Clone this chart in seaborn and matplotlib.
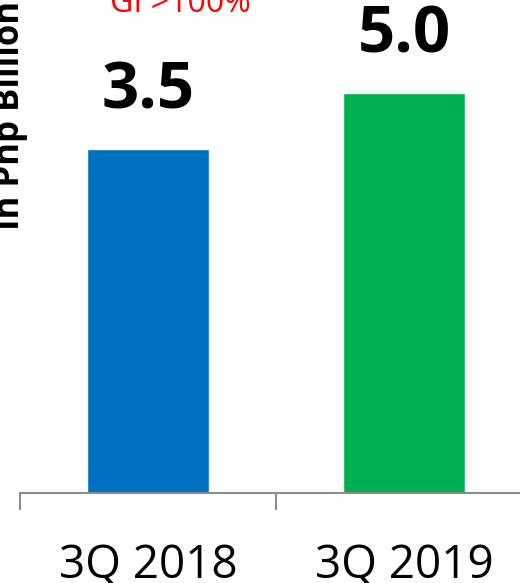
import pandas as pd
import seaborn as sns
import matplotlib.pyplot as plt
from matplotlib.ticker import FixedLocator

# dados
periods = ["3Q 2018", "3Q 2019"]
bar_heights = [4.3, 5.0]          # altura das barras como aparecem no grafico
value_labels = ["3.5", "5.0"]     # rotulos escritos acima das barras
bar_colors = ["#0070C0", "#00B050"]
growth_note = "GI >100%"
y_title = "In Php Billion"

df = pd.DataFrame({"period": periods, "value": bar_heights})

sns.set_style("white")
plt.rcParams["font.family"] = ["Open Sans", "DejaVu Sans"]

fig = plt.figure(figsize=(5.2, 5.83), dpi=100)
ax = fig.add_axes([20 / 520, 90 / 583, 512 / 520, 493 / 583])

sns.barplot(data=df, x="period", y="value", hue="period", palette=bar_colors,
            width=0.48, saturation=1, legend=False, ax=ax)

ax.set_xlim(-0.5, 1.5)
ax.set_ylim(0, 6.1625)
ax.set_xlabel("")
ax.set_ylabel("")
ax.set_yticks([])

sns.despine(ax=ax, left=True, top=True, right=True)
grey = "#8C8C8C"
ax.spines["bottom"].set_color(grey)
ax.spines["bottom"].set_linewidth(1.5)

# marcas entre as categorias
ax.xaxis.set_minor_locator(FixedLocator([-0.5, 0.5, 1.5]))
ax.tick_params(axis="x", which="minor", length=12, width=1.5, color=grey, direction="out", bottom=True)
ax.tick_params(axis="x", which="major", length=0, pad=36, labelsize=33, labelcolor="black")

for i, lab in enumerate(value_labels):
    ax.annotate(lab, (i, bar_heights[i]), xytext=(0, 29), textcoords="offset points",
                ha="center", va="baseline", fontsize=47, fontweight="bold", color="black")

fig.text(180 / 520, 1 - 12 / 583, growth_note, color="red", fontsize=23,
         ha="center", va="baseline")

fig.text(19 / 520, 1 - 230 / 583, y_title, rotation=90, rotation_mode="anchor",
         ha="left", va="baseline", fontsize=25, fontweight="bold", color="black")

fig.savefig("out.png", dpi=100)
